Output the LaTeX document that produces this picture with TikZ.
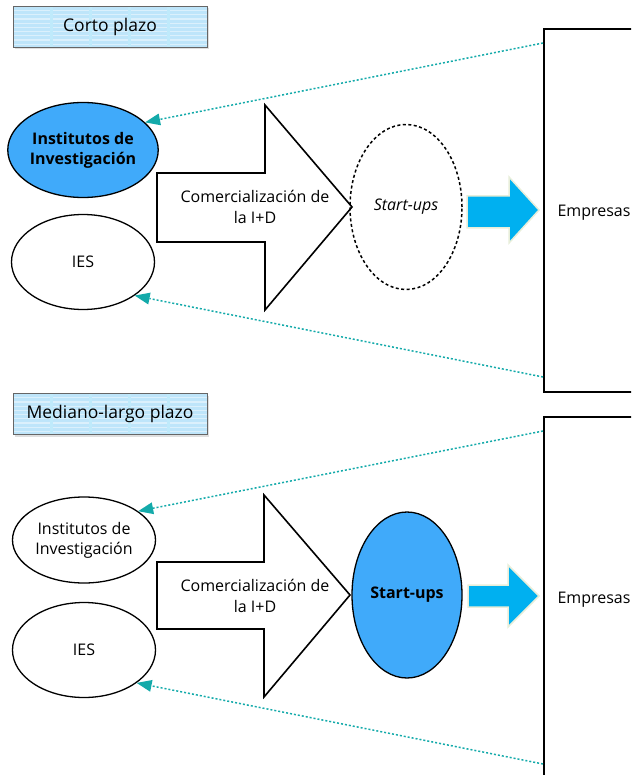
\documentclass[tikz,border=0pt]{standalone}
\usepackage{fontspec}
\setmainfont{Open Sans}
\usetikzlibrary{shapes, positioning, calc, arrows.meta, shadows}
\definecolor{instblue}{RGB}{64,170,250}
\definecolor{pushblue}{RGB}{0,176,240}
\definecolor{linkteal}{RGB}{20,170,170}
\definecolor{titlefill}{RGB}{190,229,250}
\definecolor{arrowrim}{RGB}{232,238,218}

\begin{document}
\begin{tikzpicture}[x=1pt, y=-1pt,
  actor/.style={ellipse, 
    draw, 
    line width=1.3pt, 
    minimum width=143pt, 
    minimum height=95pt, 
    inner sep=0pt, 
    align=center, 
    font=\fontsize{16}{20}\selectfont},
  period/.style={rectangle, 
    draw=gray!80!black, 
    fill=titlefill, 
    minimum width=194pt, 
    minimum height=41pt, 
    font=\fontsize{17.5}{20}\selectfont, 
    drop shadow={shadow xshift=2pt, shadow yshift=-2pt, opacity=0.25}, 
    path picture={
      \foreach \k in {1,...,9}
        \draw[white, opacity=0.45, line width=1.2pt] 
        ([yshift=-\k*4.2pt]path picture bounding box.north west) -- 
        ([yshift=-\k*4.2pt]path picture bounding box.north east);
      \foreach \k in {1,...,4}
        \draw[cyan!25, line width=3pt] 
        ([xshift=\k*38.8pt]path picture bounding box.north west) -- 
        ([xshift=\k*38.8pt]path picture bounding box.south west);
    }},
  label/.style={font=\fontsize{16}{20.5}\selectfont, align=center, inner sep=0pt},
  flow/.style={draw, line width=1.6pt, line join=miter, fill=white},
  push/.style={draw=arrowrim, line width=1.5pt, fill=pushblue},
  firms/.style={rectangle, draw, line width=2pt, minimum width=130pt, anchor=north west},
  link/.style={linkteal, line width=1.5pt, dash pattern=on 2pt off 2pt, 
    -{Triangle[length=15pt, width=12pt, line width=0pt]}}]

  \useasboundingbox (0,0) rectangle (631,775);
  \clip (0,0) rectangle (631,775);

  % CORTO PLAZO

  \node [period] (short) at (110,27) {Corto plazo};

  \node [actor, fill=instblue, font=\fontsize{16}{20}\selectfont\bfseries] 
    (inst1) at (83,150) {Institutos de\\Investigación};
  \node [actor] (ies1) at (83,262) {IES};

  \draw [flow] (157,173) -- (265,173) -- (265,105) -- (352,207) 
    -- (265,310) -- (265,242) -- (157,242) -- cycle;
  \node [label] (comm1) at (255,207) {Comercialización de\\la I+D};

  \node [actor, dash pattern=on 3pt off 2.5pt, line width=1.5pt, 
    minimum width=112pt, minimum height=165pt, 
    font=\fontsize{16}{20}\selectfont\itshape] (start1) at (406,207) {Start-ups};

  \draw [push] (467,196) -- (509,196) -- (509,177) -- (539,210) 
    -- (509,243) -- (509,228) -- (467,228) -- cycle;

  \node [firms, minimum height=363pt] (firms1) at (543,28) {};
  \node [label] (emp1) at (594,213) {Empresas};

  % MEDIANO-LARGO PLAZO

  \node [period] (long) at (110,414) {Mediano-largo plazo};

  \node [actor, minimum height=86pt] (inst2) at (84,540) {Institutos de\\Investigación};
  \node [actor] (ies2) at (84,650) {IES};

  \draw [flow] (157,562) -- (264,562) -- (264,495) -- (350,595) 
    -- (264,697) -- (264,629) -- (157,629) -- cycle;
  \node [label] (comm2) at (255,596) {Comercialización de\\la I+D};

  \node [actor, fill=instblue, minimum width=110pt, minimum height=166pt, 
    font=\fontsize{16}{20}\selectfont\bfseries] (start2) at (407,595) {Start-ups};

  \draw [push] (468,585) -- (508,585) -- (508,565) -- (539,596) 
    -- (508,627) -- (508,607) -- (468,607) -- cycle;

  \node [firms, minimum height=400pt] (firms2) at (543,416) {};
  \node [label] (emp2) at (594,600) {Empresas};

  % LINKS

  \draw [link] ([yshift=-15pt]firms1.north west) -- (inst1.24);
  \draw [link] ([yshift=16pt]firms1.south west) -- (ies1.-33);
  \draw [link] ([yshift=-15pt]firms2.north west) -- (inst2.28);
  \draw [link] ([yshift=-348pt]firms2.north west) -- (ies2.-32);

\end{tikzpicture}
\end{document}
